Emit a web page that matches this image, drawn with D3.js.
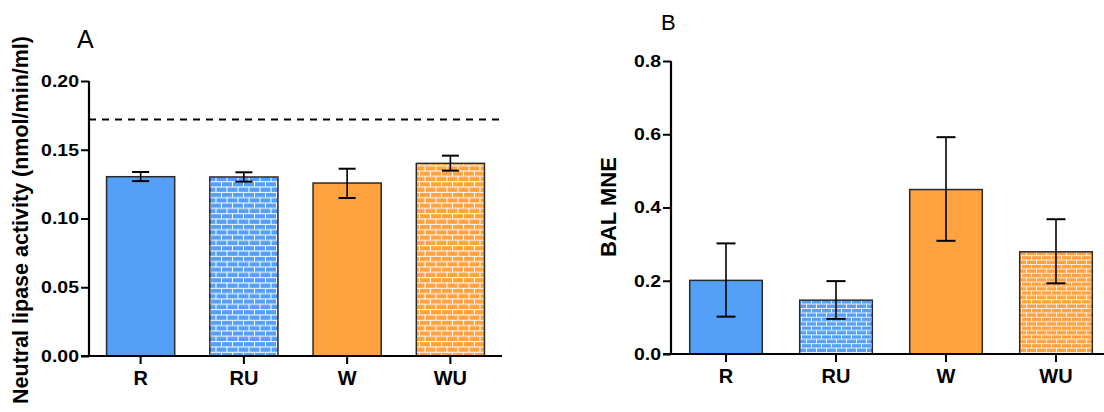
<!DOCTYPE html>
<html><head><meta charset="utf-8">
<script src="https://cdn.jsdelivr.net/npm/d3@7"></script>
<style>
body{margin:0;background:#fff;}
svg{display:block;font-family:Arial,"Liberation Sans",Helvetica,sans-serif;}
</style></head>
<body><svg id="c" width="1104" height="412"></svg>
<script>
const categories = ["R","RU","W","WU"];
const lipaseMean = [0.1304, 0.1302, 0.1258, 0.1401];
const lipaseLow  = [0.1272, 0.1268, 0.1149, 0.1348];
const lipaseHigh = [0.1338, 0.1336, 0.1362, 0.1457];
const lipaseRef  = 0.172;
const lipaseTicks = [0, 0.05, 0.10, 0.15, 0.20];

const mneMean = [0.201, 0.147, 0.449, 0.279];
const mneLow  = [0.102, 0.096, 0.309, 0.193];
const mneHigh = [0.302, 0.199, 0.592, 0.368];
const mneTicks = [0, 0.2, 0.4, 0.6, 0.8];

const fills = ["#549ff8","url(#brickBlueA)","#ffa23f","url(#brickOrangeA)"];
const fillsB = ["#549ff8","url(#brickBlueB)","#ffa23f","url(#brickOrangeB)"];

const svg = d3.select("#c");
const defs = svg.append("defs");
function brick(id, color, w, h, op){
  const p = defs.append("pattern").attr("id", id).attr("patternUnits","userSpaceOnUse")
    .attr("width", w).attr("height", 2*h);
  p.append("rect").attr("width", w).attr("height", 2*h).attr("fill", color);
  const s = `rgba(255,255,255,${op})`;
  p.append("line").attr("x1",0).attr("x2",w).attr("y1",0.5).attr("y2",0.5).attr("stroke",s).attr("stroke-width",1);
  p.append("line").attr("x1",0).attr("x2",w).attr("y1",h+0.5).attr("y2",h+0.5).attr("stroke",s).attr("stroke-width",1);
  p.append("line").attr("x1",1.5).attr("x2",1.5).attr("y1",0).attr("y2",h).attr("stroke",s).attr("stroke-width",1);
  p.append("line").attr("x1",1.5+w/2).attr("x2",1.5+w/2).attr("y1",h).attr("y2",2*h).attr("stroke",s).attr("stroke-width",1);
}
brick("brickBlueA", "#549ff8", 11, 5.33, 1);
brick("brickOrangeA", "#ffa23f", 11, 5.33, 1);
brick("brickBlueB", "#549ff8", 10, 4.4, 0.85);
brick("brickOrangeB", "#ffa23f", 10, 4.4, 0.8);

const SX = 1.18;
function panel(o){
  const g = svg.append("g");
  const x = d3.scaleBand().domain(categories).range([o.x0, o.x1]).paddingInner(0.34).paddingOuter(0.17);
  const y = d3.scaleLinear().domain([0, o.max]).range([o.y0, o.yTop]);
  // bars
  g.selectAll("rect.bar").data(categories).join("rect")
    .attr("x", d => x(d)).attr("width", x.bandwidth())
    .attr("y", (d,i) => y(o.mean[i])).attr("height", (d,i) => y(0) - y(o.mean[i]))
    .attr("fill", (d,i) => o.fills[i]).attr("stroke", "#2a2a2a").attr("stroke-width", 1.5);
  // error bars
  const eg = g.selectAll("g.err").data(categories).join("g");
  eg.append("line").attr("x1", d => x(d)+x.bandwidth()/2).attr("x2", d => x(d)+x.bandwidth()/2)
    .attr("y1", (d,i) => y(o.low[i])).attr("y2", (d,i) => y(o.high[i])).attr("stroke","#000").attr("stroke-width",1.6);
  ["low","high"].forEach(k => {
    eg.append("line").attr("x1", d => x(d)+x.bandwidth()/2 - o.cap).attr("x2", d => x(d)+x.bandwidth()/2 + o.cap)
      .attr("y1", (d,i) => y(o[k][i])).attr("y2", (d,i) => y(o[k][i])).attr("stroke","#000").attr("stroke-width",2);
  });
  // y axis
  const ya = g.append("g").attr("transform", `translate(${o.x0},0)`)
    .call(d3.axisLeft(y).tickValues(o.ticks).tickFormat(d3.format(o.fmt)).tickSizeOuter(0).tickSize(8).tickPadding(2));
  ya.select(".domain").attr("stroke","#000").attr("stroke-width",2.2).attr("d", `M0,${o.yTop}V${o.y0}`);
  ya.selectAll(".tick line").attr("stroke","#000").attr("stroke-width",2);
  ya.selectAll(".tick text").attr("font-size",16.5).attr("font-weight","bold").attr("fill","#000")
    .attr("font-family","Arial,'Liberation Sans',sans-serif")
    .attr("x", -10/SX).attr("transform", `scale(${SX},1)`);
  // x axis
  const xa = g.append("g").attr("transform", `translate(0,${o.y0})`)
    .call(d3.axisBottom(x).tickSizeOuter(0).tickSize(8).tickPadding(7));
  xa.select(".domain").attr("stroke","#000").attr("stroke-width",2.2).attr("d", `M${o.x0-8},0H${o.x1}`);
  xa.selectAll(".tick line").attr("stroke","#000").attr("stroke-width",2);
  xa.selectAll(".tick text").attr("font-size",20).attr("font-weight","bold").attr("fill","#000")
    .attr("font-family","Arial,'Liberation Sans',sans-serif");
  // y label
  g.append("text").attr("transform", `translate(${o.labelX},${o.labelY}) rotate(-90)`)
    .attr("text-anchor","middle").attr("font-size", o.labelSize).attr("font-weight","bold").text(o.label);
  // panel letter
  g.append("text").attr("x", o.letterX).attr("y", o.letterY).attr("font-size", o.letterSize).text(o.letter);
  return {g, x, y};
}

const A = panel({x0:89, x1:502, y0:356, yTop:81, max:0.2, mean:lipaseMean, low:lipaseLow, high:lipaseHigh,
  ticks:lipaseTicks, fmt:".2f", fills:fills, cap:8.5, label:"Neutral lipase activity (nmol/min/ml)",
  labelX:28, labelY:220, labelSize:21.5, letter:"A", letterX:77, letterY:48, letterSize:25});
A.g.append("line").attr("x1",89).attr("x2",503).attr("y1",A.y(lipaseRef)).attr("y2",A.y(lipaseRef))
  .attr("stroke","#000").attr("stroke-width",2).attr("stroke-dasharray","7,6");

panel({x0:671, x1:1111, y0:354, yTop:61, max:0.8, mean:mneMean, low:mneLow, high:mneHigh,
  ticks:mneTicks, fmt:".1f", fills:fillsB, cap:9.5, label:"BAL MNE",
  labelX:616, labelY:207, labelSize:22, letter:"B", letterX:661, letterY:30, letterSize:22});
</script></body></html>
